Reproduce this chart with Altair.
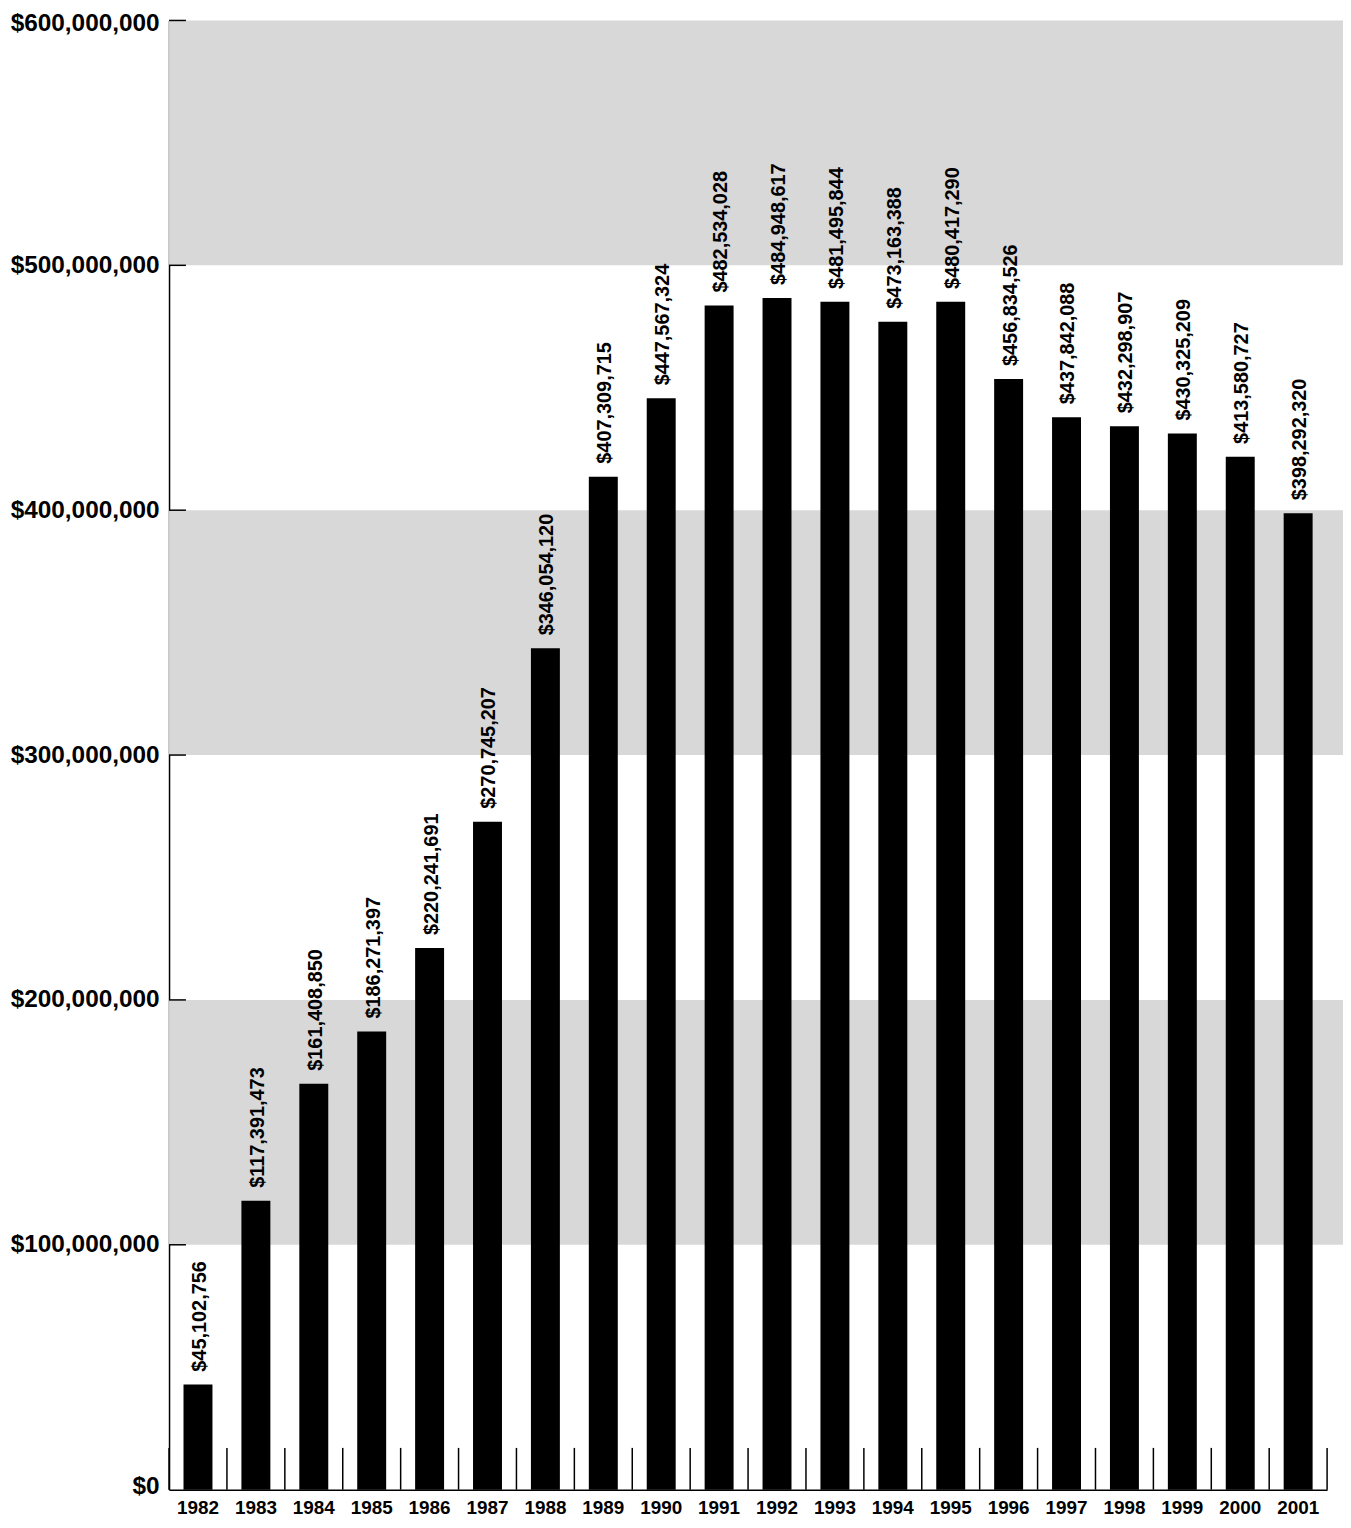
import altair as alt
import pandas as pd

years = [str(y) for y in range(1982, 2002)]
# bar heights as drawn in the picture (dollars)
bar_heights = [42.9e6, 118.0e6, 165.8e6, 187.1e6, 221.2e6, 272.8e6, 343.6e6,
               413.7e6, 445.7e6, 483.6e6, 486.7e6, 485.1e6, 477.0e6, 485.1e6,
               453.6e6, 438.0e6, 434.3e6, 431.3e6, 421.8e6, 398.8e6]
# amounts printed above the bars
amounts = [45102756, 117391473, 161408850, 186271397, 220241691, 270745207,
           346054120, 407309715, 447567324, 482534028, 484948617, 481495844,
           473163388, 480417290, 456834526, 437842088, 432298907, 430325209,
           413580727, 398292320]
y_ticks = [0, 100e6, 200e6, 300e6, 400e6, 500e6, 600e6]
band_starts = [100e6, 300e6, 500e6]
band_ends = [200e6, 400e6, 600e6]

W = 1165
H = 1478
STEP = W / len(years)
FONT = "Liberation Sans, Arial, Helvetica, sans-serif"

df = pd.DataFrame({"year": years, "height": bar_heights, "amount": amounts})
bands = pd.DataFrame({"y0": band_starts, "y1": band_ends})
ticks = pd.DataFrame({"v": y_ticks[1:]})
last = df.tail(1)

yscale = alt.Scale(domain=[0, 600e6], nice=False, zero=True)
xscale = alt.Scale(paddingInner=0.5, paddingOuter=0.25)

y_axis = alt.Axis(values=y_ticks, format="$,.0f", grid=False,
                  labelFont=FONT, labelFontSize=24.5, labelFontWeight="bold",
                  labelColor="black", labelPadding=10, ticks=False,
                  labelFlush=True, labelFlushOffset=9,
                  domainColor="black", domainWidth=1.5)
x_axis = alt.Axis(labelAngle=0, labelFont=FONT, labelFontSize=19,
                  labelFontWeight="bold", labelColor="black", labelPadding=9,
                  ticks=False, grid=False, domainColor="black", domainWidth=1.5)

band_layer = alt.Chart(bands).mark_rect(color="#d8d8d8").encode(
    x=alt.value(0), x2=alt.value(W + 16),
    y=alt.Y("y0:Q", scale=yscale, axis=y_axis, title=None), y2="y1:Q")

bars = alt.Chart(df).mark_bar(color="black").encode(
    x=alt.X("year:N", scale=xscale, sort=years, title=None, axis=x_axis),
    y=alt.Y("height:Q", scale=yscale, title=None, axis=y_axis))

y_tick_layer = alt.Chart(ticks).mark_rule(color="black", strokeWidth=1.5).encode(
    y=alt.Y("v:Q", scale=yscale, axis=y_axis, title=None),
    x=alt.value(0), x2=alt.value(17))

x_tick_layer = alt.Chart(df).mark_rule(color="black", strokeWidth=1.5,
                                       xOffset=-STEP / 2).encode(
    x=alt.X("year:N", scale=xscale, sort=years, title=None, axis=x_axis),
    y=alt.value(H - 42), y2=alt.value(H))
x_tick_last = alt.Chart(last).mark_rule(color="black", strokeWidth=1.5,
                                        xOffset=STEP / 2).encode(
    x=alt.X("year:N", scale=xscale, sort=years, title=None, axis=x_axis),
    y=alt.value(H - 42), y2=alt.value(H))

labels = alt.Chart(df).mark_text(angle=270, align="left", baseline="middle",
                                 dx=13, dy=2, font=FONT,
                                 fontSize=20, fontWeight="bold", color="black").encode(
    x=alt.X("year:N", scale=xscale, sort=years, title=None, axis=x_axis),
    y=alt.Y("height:Q", scale=yscale, title=None, axis=y_axis),
    text=alt.Text("amount:Q", format="$,.0f"))

chart = alt.layer(band_layer, bars, y_tick_layer, x_tick_layer, x_tick_last, labels).properties(
    width=W, height=H,
    autosize=alt.AutoSizeParams(type="none"),
    padding={"left": 162, "top": 8, "right": 16, "bottom": 26},
    view=alt.ViewBackground(stroke="transparent", strokeWidth=0, strokeOpacity=0),
).configure_view(stroke="transparent", strokeWidth=0, strokeOpacity=0).configure(background="white")

chart.save("out.html", embed_options={"renderer": "svg", "actions": False})
